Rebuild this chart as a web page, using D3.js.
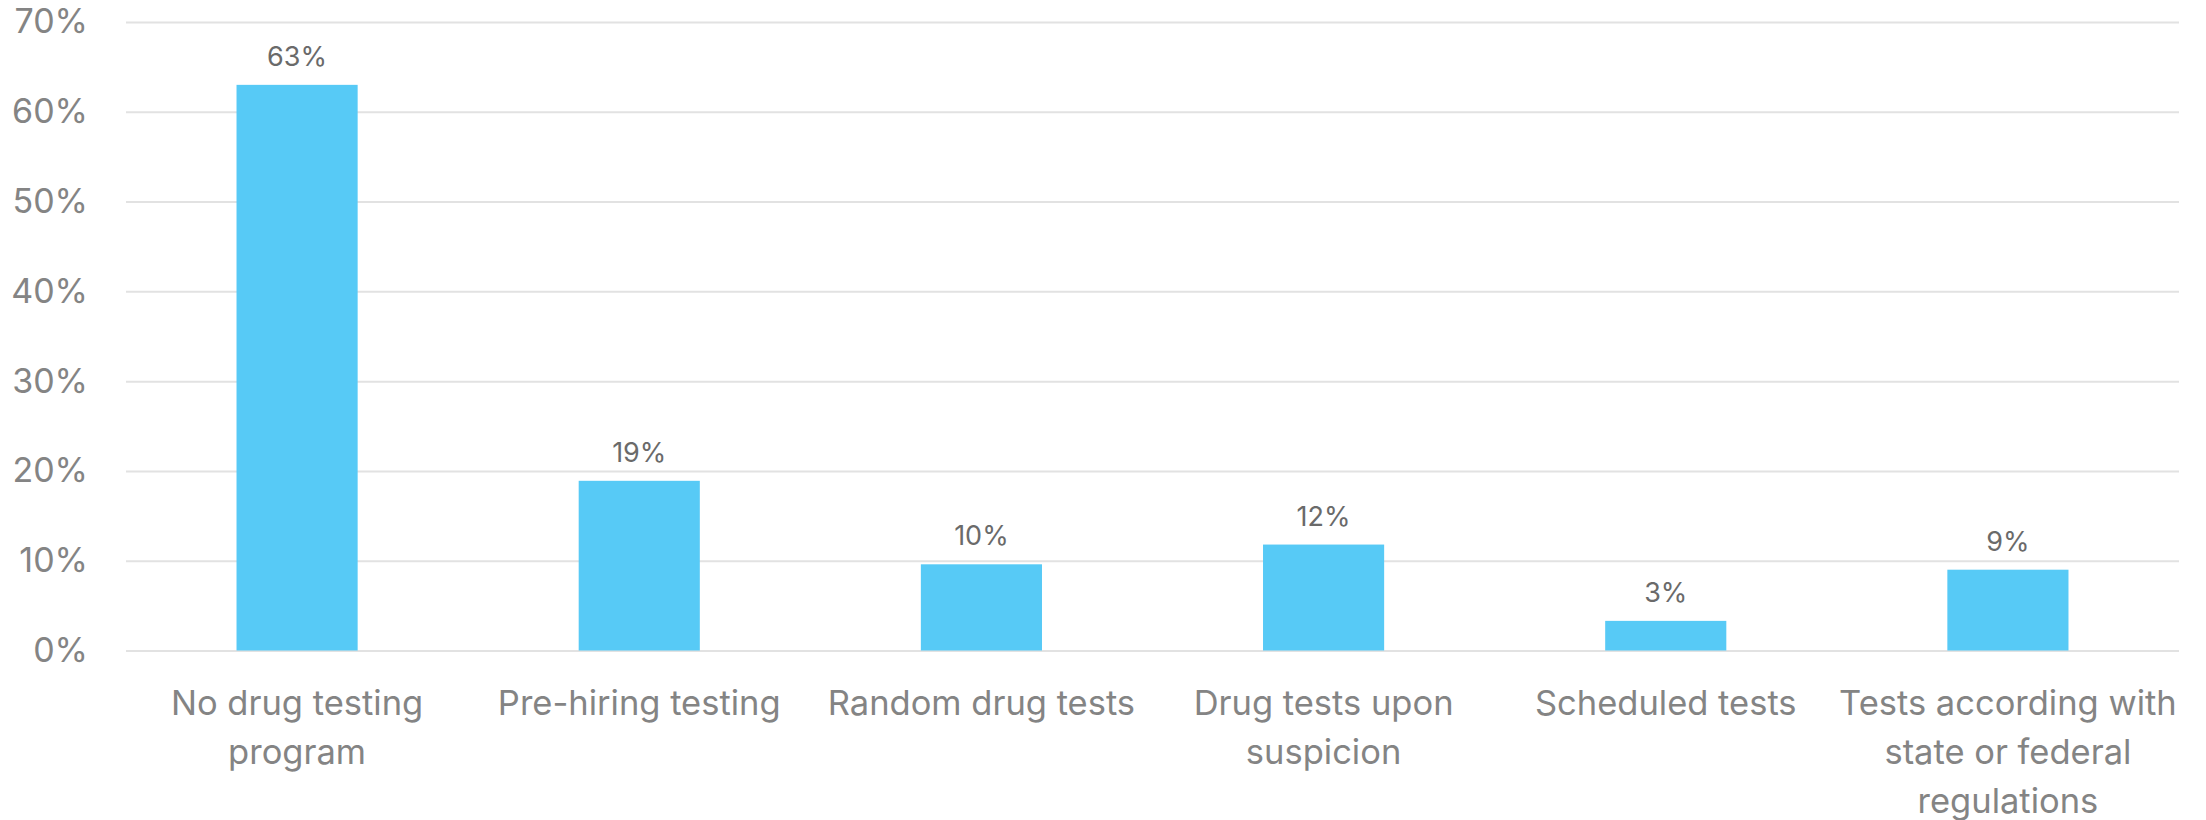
<!DOCTYPE html>
<html>
<head>
<meta charset="utf-8">
<script src="https://cdn.jsdelivr.net/npm/d3@7"></script>
<style>
  html, body { margin: 0; padding: 0; background: #ffffff; }
  svg { display: block; }
  text { font-family: Inter, Roboto, "Noto Sans", sans-serif; }
</style>
</head>
<body>
<svg id="chart" width="2206" height="820"></svg>
<script>
const categories = [
  "No drug testing program",
  "Pre-hiring testing",
  "Random drug tests",
  "Drug tests upon suspicion",
  "Scheduled tests",
  "Tests according with state or federal regulations"
];
const categoryLines = [
  ["No drug testing", "program"],
  ["Pre-hiring testing"],
  ["Random drug tests"],
  ["Drug tests upon", "suspicion"],
  ["Scheduled tests"],
  ["Tests according with", "state or federal", "regulations"]
];
const values = [63.0, 18.9, 9.6, 11.8, 3.3, 9.0];
const valueLabels = ["63%", "19%", "10%", "12%", "3%", "9%"];
const yTicks = [0, 10, 20, 30, 40, 50, 60, 70];

const W = 2206, H = 820;
const margin = { left: 126, right: 27, top: 22, bottom: 170 };
const FONT = "Inter, Roboto, sans-serif";
const svg = d3.select("#chart");

const x = d3.scaleBand()
  .domain(categories)
  .range([margin.left, W - margin.right])
  .paddingInner(0.646)
  .paddingOuter(0.323);

const y = d3.scaleLinear()
  .domain([0, 70])
  .range([650.5, margin.top]);

// gridlines
const grid = d3.axisLeft(y)
  .tickValues(yTicks)
  .tickSize(-(W - margin.left - margin.right))
  .tickFormat("");
svg.append("g")
  .attr("transform", `translate(${margin.left},0)`)
  .call(grid)
  .call(g => g.select(".domain").remove())
  .call(g => g.selectAll("line").attr("stroke", "#e2e2e2").attr("stroke-width", 2));

// y tick labels
const yAxis = d3.axisLeft(y)
  .tickValues(yTicks)
  .tickSize(0)
  .tickPadding(0)
  .tickFormat(d => d + "%");
svg.append("g")
  .attr("transform", `translate(88,0)`)
  .call(yAxis)
  .call(g => g.select(".domain").remove())
  .call(g => g.selectAll("text")
    .attr("font-size", 34)
    .attr("fill", "#848484")
    .attr("font-family", FONT));

// bars
svg.append("g").selectAll("rect")
  .data(values)
  .join("rect")
  .attr("x", (d, i) => x(categories[i]))
  .attr("width", x.bandwidth())
  .attr("y", d => y(d))
  .attr("height", d => y(0) - y(d))
  .attr("fill", "#57CAF6");

// value labels
svg.append("g").selectAll("text")
  .data(values)
  .join("text")
  .attr("x", (d, i) => x(categories[i]) + x.bandwidth() / 2)
  .attr("y", d => y(d) - 19)
  .attr("text-anchor", "middle")
  .attr("font-size", 27)
  .attr("font-family", FONT)
  .attr("fill", "#6a6a6a")
  .text((d, i) => valueLabels[i]);

// x axis labels
const xAxis = d3.axisBottom(x).tickSize(0).tickFormat("");
const xg = svg.append("g")
  .attr("transform", `translate(0,${y(0)})`)
  .call(xAxis)
  .call(g => g.select(".domain").remove());
xg.selectAll(".tick").each(function(d, i) {
  const t = d3.select(this).append("text")
    .attr("text-anchor", "middle")
    .attr("font-size", 34.5)
    .attr("fill", "#848484")
    .attr("font-family", FONT);
  categoryLines[i].forEach((line, j) => {
    t.append("tspan")
      .attr("x", 0)
      .attr("y", 64 + j * 49)
      .text(line);
  });
});
</script>
</body>
</html>
